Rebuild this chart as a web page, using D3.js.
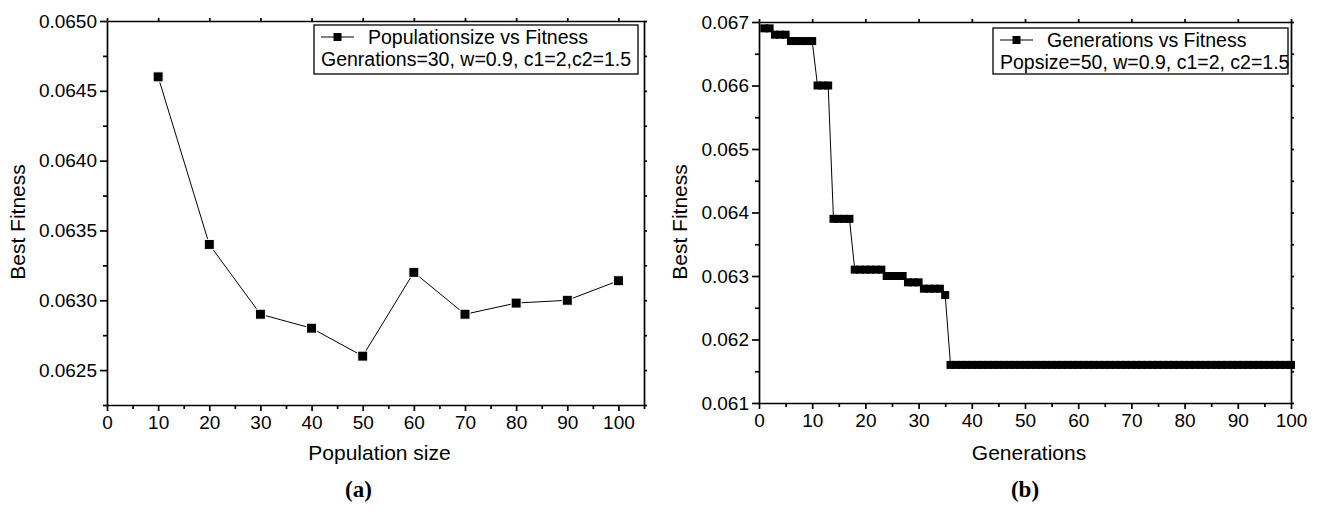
<!DOCTYPE html>
<html>
<head>
<meta charset="utf-8">
<title>Population size / Generations vs Fitness</title>
<style>
    body { margin: 0; background: #fff; }
    svg { font-family: "Liberation Sans", Arial, sans-serif; }
    .domain, .tick line { stroke: #000; stroke-width: 1.7px; }
    .tick text { fill: #000; font-size: 19px; }
    .dataline { fill: none; stroke: #000; stroke-width: 1px; }
    .legendbox { fill: #fff; stroke: #000; stroke-width: 1.3px; }
    .legendtext { font-size: 19.5px; fill: #000; }
    .axtitle { font-size: 21px; fill: #000; }
    .panel { font-family: "Liberation Serif", "Times New Roman", serif; font-weight: bold; font-size: 23px; }
</style>
</head>
<body>
<script src="https://cdn.jsdelivr.net/npm/d3@7"></script>
<script>

// panel (a): population size vs best fitness
var popSize = [10, 20, 30, 40, 50, 60, 70, 80, 90, 100];
var popFitness = [0.0646, 0.0634, 0.0629, 0.0628, 0.0626, 0.0632, 0.0629, 0.06298, 0.0630, 0.06314];

// panel (b): generations vs best fitness
var generations = d3.range(1, 101);
var genFitness = [
    0.0669, 0.0669,
    0.0668, 0.0668, 0.0668,
    0.0667, 0.0667, 0.0667, 0.0667, 0.0667,
    0.0660, 0.0660, 0.0660,
    0.0639, 0.0639, 0.0639, 0.0639,
    0.0631, 0.0631, 0.0631, 0.0631, 0.0631, 0.0631,
    0.0630, 0.0630, 0.0630, 0.0630,
    0.0629, 0.0629, 0.0629,
    0.0628, 0.0628, 0.0628, 0.0628,
    0.0627,
    0.0616, 0.0616, 0.0616, 0.0616, 0.0616, 0.0616, 0.0616, 0.0616, 0.0616, 0.0616,
    0.0616, 0.0616, 0.0616, 0.0616, 0.0616, 0.0616, 0.0616, 0.0616, 0.0616, 0.0616,
    0.0616, 0.0616, 0.0616, 0.0616, 0.0616, 0.0616, 0.0616, 0.0616, 0.0616, 0.0616,
    0.0616, 0.0616, 0.0616, 0.0616, 0.0616, 0.0616, 0.0616, 0.0616, 0.0616, 0.0616,
    0.0616, 0.0616, 0.0616, 0.0616, 0.0616, 0.0616, 0.0616, 0.0616, 0.0616, 0.0616,
    0.0616, 0.0616, 0.0616, 0.0616, 0.0616, 0.0616, 0.0616, 0.0616, 0.0616, 0.0616,
    0.0616, 0.0616, 0.0616, 0.0616, 0.0616
];

// tick labels
var xMajor = d3.range(0, 101, 10);
var xMinor = d3.range(5, 106, 10);
var yMajorA = [0.0625, 0.0630, 0.0635, 0.0640, 0.0645, 0.0650];
var yMinorA = [0.06225, 0.06275, 0.06325, 0.06375, 0.06425, 0.06475];
var yMajorB = [0.061, 0.062, 0.063, 0.064, 0.065, 0.066, 0.067];
var yMinorB = [0.0615, 0.0625, 0.0635, 0.0645, 0.0655, 0.0665];

var svg = d3.select("body").append("svg")
        .attr("width", 1320)
        .attr("height", 511);

function drawPanel(p) {
    var x = d3.scaleLinear().domain(p.xDomain).range([p.left, p.right]);
    var y = d3.scaleLinear().domain(p.yDomain).range([p.bottom, p.top]);
    var g = svg.append("g");

    //bottom axis, major + minor
    g.append("g").attr("transform", "translate(0," + p.bottom + ")")
        .call(d3.axisBottom(x).tickValues(xMajor).tickSize(6).tickSizeOuter(0).tickPadding(5).tickFormat(d3.format("d")));
    g.append("g").attr("transform", "translate(0," + p.bottom + ")")
        .call(d3.axisBottom(x).tickValues(xMinor.filter(function(d) { return d <= p.xDomain[1]; })).tickSize(4).tickFormat(""))
        .select(".domain").remove();

    //left axis, major + minor
    g.append("g").attr("transform", "translate(" + p.left + ",0)")
        .call(d3.axisLeft(y).tickValues(p.yMajor).tickSize(7).tickSizeOuter(0).tickPadding(3).tickFormat(d3.format(p.yFmt)));
    g.append("g").attr("transform", "translate(" + p.left + ",0)")
        .call(d3.axisLeft(y).tickValues(p.yMinor).tickSize(4).tickFormat(""))
        .select(".domain").remove();

    //top + right frame with small outward ticks
    g.append("g").attr("transform", "translate(0," + p.top + ")")
        .call(d3.axisTop(x).tickValues(xMajor).tickSize(3).tickSizeOuter(0).tickFormat(""));
    g.append("g").attr("transform", "translate(" + p.right + ",0)")
        .call(d3.axisRight(y).tickValues(p.yMinor.concat(p.yMajor)).tickSize(3).tickSizeOuter(0).tickFormat(""));

    g.selectAll(".tick text").style("font-size", "19px");

    //data line + square markers
    var line = d3.line().x(function(d, i) { return x(p.xs[i]); }).y(function(d) { return y(d); });
    g.append("path").datum(p.ys).attr("class", "dataline").attr("d", line);
    g.selectAll(".mk").data(p.ys).enter().append("rect")
        .attr("class", "mk")
        .attr("x", function(d, i) { return x(p.xs[i]) - p.mk / 2; })
        .attr("y", function(d) { return y(d) - p.mk / 2; })
        .attr("width", p.mk).attr("height", p.mk)
        .attr("fill", "#000")
        .attr("stroke", p.halo ? "#fff" : "none")
        .attr("stroke-width", 1);

    //axis titles
    g.append("text").attr("class", "axtitle")
        .attr("transform", "translate(" + p.yTitleX + ",222) rotate(-90)")
        .attr("text-anchor", "middle").text("Best Fitness");
    g.append("text").attr("class", "axtitle")
        .attr("x", (p.left + p.right) / 2 + 4).attr("y", 460)
        .attr("text-anchor", "middle").text(p.xTitle);

    //legend
    var lg = g.append("g");
    lg.append("rect").attr("class", "legendbox")
        .attr("x", p.lgX).attr("y", p.lgY).attr("width", p.lgW).attr("height", p.lgH);
    var sx = p.lgX + 7, sy = p.lgY + 12;
    lg.append("line").attr("x1", sx).attr("x2", sx + 33).attr("y1", sy).attr("y2", sy)
        .attr("stroke", "#000").attr("stroke-width", 1);
    lg.append("rect").attr("x", sx + 12.5).attr("y", sy - 4).attr("width", 8).attr("height", 8).attr("fill", "#000");
    lg.append("text").attr("class", "legendtext").attr("x", sx + 47).attr("y", p.lgY + 18.5).text(p.lg1);
    lg.append("text").attr("class", "legendtext").attr("x", sx).attr("y", p.lgY + 40.5).text(p.lg2);

    //panel label
    g.append("text").attr("class", "panel")
        .attr("x", (p.left + p.right) / 2 - 17 + p.panelDx).attr("y", 497)
        .attr("text-anchor", "middle").text(p.panel);
}

drawPanel({
    xs: popSize, ys: popFitness,
    xDomain: [0, 105], yDomain: [0.06225, 0.0650],
    left: 107, right: 644, top: 21, bottom: 405,
    yMajor: yMajorA, yMinor: yMinorA, yFmt: ".4f",
    mk: 10, halo: true, yTitleX: 25,
    xTitle: "Population size",
    lgX: 314, lgY: 25, lgW: 324, lgH: 49,
    lg1: "Populationsize vs Fitness",
    lg2: "Genrations=30, w=0.9, c1=2,c2=1.5",
    panel: "(a)", panelDx: 0
});

drawPanel({
    xs: generations, ys: genFitness,
    xDomain: [0, 100], yDomain: [0.061, 0.067],
    left: 759, right: 1291, top: 22, bottom: 403,
    yMajor: yMajorB, yMinor: yMinorB, yFmt: ".3f",
    mk: 8, halo: false, yTitleX: 687,
    xTitle: "Generations",
    lgX: 993, lgY: 28, lgW: 295, lgH: 46,
    lg1: "Generations vs Fitness",
    lg2: "Popsize=50, w=0.9, c1=2, c2=1.5",
    panel: "(b)", panelDx: 17
});

</script>
</body>
</html>
